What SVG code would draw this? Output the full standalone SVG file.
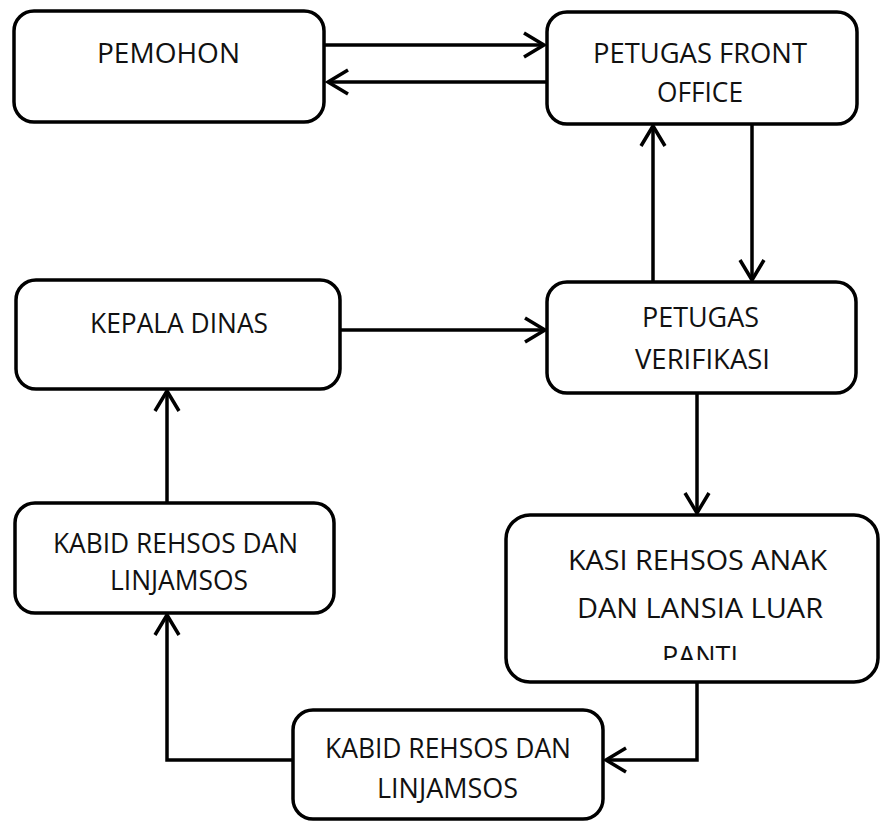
<svg xmlns="http://www.w3.org/2000/svg" width="881" height="823" viewBox="0 0 881 823">
<style>
.box{fill:#fff;stroke:#000;stroke-width:3.5}
.lbl{font-family:"Open Sans","Liberation Sans",sans-serif;font-size:27.5px;fill:#111;text-anchor:middle}
.con{fill:none;stroke:#000;stroke-width:3.5}
</style>
<defs>
<marker id="arr" markerUnits="userSpaceOnUse" markerWidth="30" markerHeight="30" viewBox="-24 -15 28 30" refX="0" refY="0" orient="auto" overflow="visible">
<path d="M-20,-12 L0,0 L-20,12" fill="none" stroke="#000" stroke-width="3.5"/>
</marker>
<clipPath id="kasiClip"><rect x="506" y="515" width="372" height="145"/></clipPath>
</defs>
<rect width="881" height="823" fill="#fff"/>
<g id="connectors">
<path class="con" d="M324,45 H544" marker-end="url(#arr)"/>
<path class="con" d="M547,82 H328" marker-end="url(#arr)"/>
<path class="con" d="M653,282 V126" marker-end="url(#arr)"/>
<path class="con" d="M752,124 V280" marker-end="url(#arr)"/>
<path class="con" d="M340,330 H545" marker-end="url(#arr)"/>
<path class="con" d="M697,393 V513" marker-end="url(#arr)"/>
<path class="con" d="M697,682 V760 H606" marker-end="url(#arr)"/>
<path class="con" d="M293,760 H167 V615" marker-end="url(#arr)"/>
<path class="con" d="M167,503 V391" marker-end="url(#arr)"/>
</g>
<g id="pemohon">
<rect class="box" x="14" y="11" width="310" height="111" rx="20"/>
<text class="lbl" x="168.5" y="63" textLength="143" lengthAdjust="spacingAndGlyphs">PEMOHON</text>
</g>
<g id="front-office">
<rect class="box" x="547" y="12" width="310" height="112" rx="20"/>
<text class="lbl" x="700" y="63" textLength="214" lengthAdjust="spacingAndGlyphs">PETUGAS FRONT</text>
<text class="lbl" x="700" y="102" textLength="86" lengthAdjust="spacingAndGlyphs">OFFICE</text>
</g>
<g id="kepala-dinas">
<rect class="box" x="16" y="280" width="324" height="109" rx="20"/>
<text class="lbl" x="179" y="333" textLength="178" lengthAdjust="spacingAndGlyphs">KEPALA DINAS</text>
</g>
<g id="verifikasi">
<rect class="box" x="547" y="282" width="309" height="111" rx="20"/>
<text class="lbl" x="700.5" y="327" textLength="117" lengthAdjust="spacingAndGlyphs">PETUGAS</text>
<text class="lbl" x="702.5" y="369" textLength="135" lengthAdjust="spacingAndGlyphs">VERIFIKASI</text>
</g>
<g id="kabid-left">
<rect class="box" x="15" y="503" width="319" height="110" rx="20"/>
<text class="lbl" x="175.5" y="553" textLength="245" lengthAdjust="spacingAndGlyphs">KABID REHSOS DAN</text>
<text class="lbl" x="179" y="590" textLength="138" lengthAdjust="spacingAndGlyphs">LINJAMSOS</text>
</g>
<g id="kasi">
<rect class="box" x="506" y="515" width="372" height="167" rx="24"/>
<text class="lbl" x="697.5" y="570" textLength="259" lengthAdjust="spacingAndGlyphs">KASI REHSOS ANAK</text>
<text class="lbl" x="700" y="618" textLength="246" lengthAdjust="spacingAndGlyphs">DAN LANSIA LUAR</text>
<text class="lbl" x="700" y="666" textLength="76" lengthAdjust="spacingAndGlyphs" clip-path="url(#kasiClip)">PANTI</text>
</g>
<g id="kabid-bottom">
<rect class="box" x="293" y="710" width="310" height="109" rx="20"/>
<text class="lbl" x="448" y="758" textLength="246" lengthAdjust="spacingAndGlyphs">KABID REHSOS DAN</text>
<text class="lbl" x="447.5" y="798" textLength="141" lengthAdjust="spacingAndGlyphs">LINJAMSOS</text>
</g>
</svg>
